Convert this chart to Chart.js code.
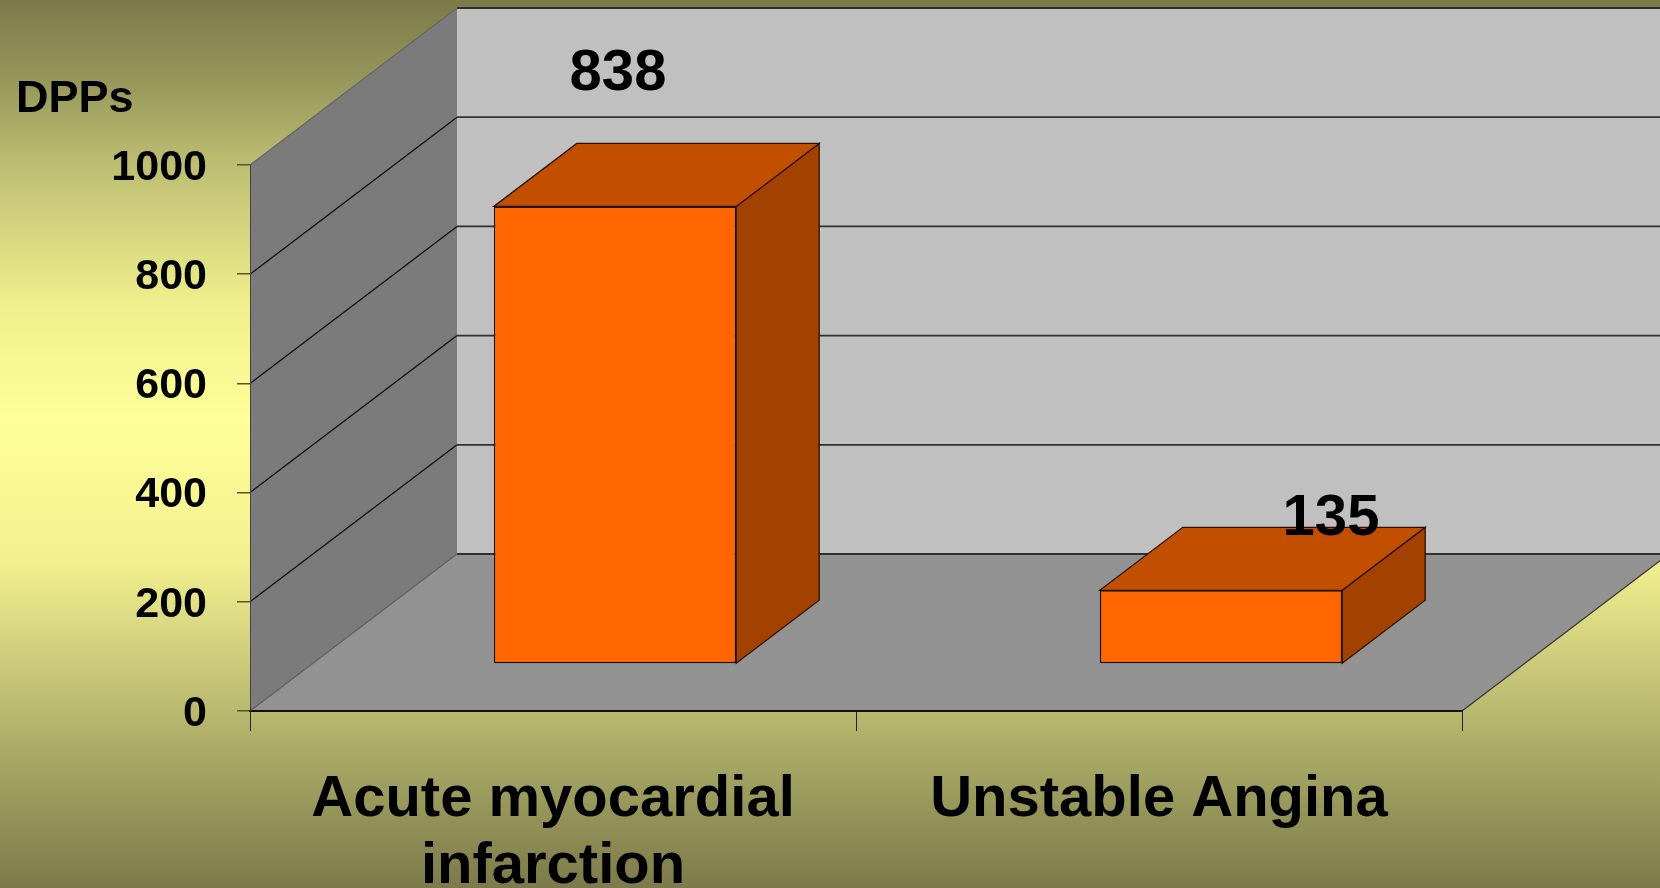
<!DOCTYPE html>
<html>
<head>
<meta charset="utf-8">
<style>html,body{margin:0;padding:0;background:#7c7a4a;overflow:hidden}canvas{display:block}</style>
<script src="https://cdn.jsdelivr.net/npm/chart.js@4/dist/chart.umd.js"></script>
</head>
<body>
<canvas id="c" width="1660" height="888"></canvas>
<script>
const categories = [['Acute myocardial', 'infarction'], 'Unstable Angina'];
const dppValues = [838, 135];
const yTitle = 'DPPs';

const FONT = '"Liberation Sans", Arial, sans-serif';
const wallDepth = { dx: 207, dy: -157 };
const barOffset = { dx: 62, dy: -47 };
const barDepth = { dx: 83, dy: -63 };
const labelShift = [{ dx: 3, dy: -132 }, { dx: 110, dy: -71 }];
const yLabelNudge = 3;

function poly(ctx, pts, fill, stroke, lw) {
  ctx.beginPath();
  pts.forEach((p, i) => i ? ctx.lineTo(p[0], p[1]) : ctx.moveTo(p[0], p[1]));
  ctx.closePath();
  if (fill) { ctx.fillStyle = fill; ctx.fill(); }
  if (stroke) { ctx.strokeStyle = stroke; ctx.lineWidth = lw || 1; ctx.stroke(); }
}

const scene3d = {
  id: 'scene3d',
  beforeDraw(chart) {
    const { ctx, chartArea: a, scales: { y } } = chart;
    // vertical nudge of the value-axis labels
    if (!y._nudged) {
      y.getLabelItems().forEach(it => { it.options.translation[1] += yLabelNudge; });
      y._nudged = true;
    }
    const g = ctx.createLinearGradient(0, 0, 0, chart.height);
    g.addColorStop(0, '#7c7a4a');
    g.addColorStop(0.09, '#96965a');
    g.addColorStop(0.187, '#bebe73');
    g.addColorStop(0.338, '#eeee8c');
    g.addColorStop(0.47, '#ffff99');
    g.addColorStop(0.63, '#f3f08f');
    g.addColorStop(0.80, '#b9b96f');
    g.addColorStop(0.91, '#96965a');
    g.addColorStop(1, '#7c7a4a');
    ctx.save();
    ctx.fillStyle = g;
    ctx.fillRect(0, 0, chart.width, chart.height);
    const d = wallDepth;
    // back wall
    poly(ctx, [[a.left + d.dx, a.top + d.dy], [a.right + d.dx, a.top + d.dy], [a.right + d.dx, a.bottom + d.dy], [a.left + d.dx, a.bottom + d.dy]], '#c0c0c0');
    // left wall
    poly(ctx, [[a.left, a.bottom], [a.left, a.top], [a.left + d.dx, a.top + d.dy], [a.left + d.dx, a.bottom + d.dy]], '#7b7b7b');
    // floor
    poly(ctx, [[a.left, a.bottom], [a.right, a.bottom], [a.right + d.dx, a.bottom + d.dy], [a.left + d.dx, a.bottom + d.dy]], '#929292');
    // gridlines from the value scale
    y.ticks.forEach(t => {
      const py = y.getPixelForValue(t.value);
      ctx.beginPath();
      ctx.moveTo(a.left, py);
      ctx.lineTo(a.left + d.dx, py + d.dy);
      ctx.strokeStyle = t.value === 0 ? '#5f5f5f' : (t.value === 1000 ? '#666' : '#0c0c0c');
      ctx.lineWidth = 1.2;
      ctx.stroke();
      ctx.beginPath();
      ctx.moveTo(a.left + d.dx, py + d.dy);
      ctx.lineTo(a.right + d.dx, py + d.dy);
      ctx.strokeStyle = '#303030';
      ctx.lineWidth = 1.8;
      ctx.stroke();
    });
    // floor right edge
    ctx.beginPath();
    ctx.moveTo(a.right, a.bottom);
    ctx.lineTo(a.right + d.dx, a.bottom + d.dy);
    ctx.strokeStyle = '#333';
    ctx.lineWidth = 1.2;
    ctx.stroke();
    // axis title
    ctx.fillStyle = '#000';
    ctx.font = 'bold 45px ' + FONT;
    ctx.textAlign = 'left';
    ctx.textBaseline = 'alphabetic';
    ctx.fillText(yTitle, 16, 112);
    ctx.restore();
  },
  beforeDatasetsDraw(chart) {
    const { ctx } = chart;
    ctx.save();
    ctx.translate(barOffset.dx, barOffset.dy);
    const b = barDepth;
    chart.getDatasetMeta(0).data.forEach(el => {
      const { x, y, base, width } = el.getProps(['x', 'y', 'base', 'width']);
      const l = x - width / 2, r = x + width / 2;
      poly(ctx, [[r, y], [r + b.dx, y + b.dy], [r + b.dx, base + b.dy], [r, base]], '#a24100', '#2a1200', 1.3);
      poly(ctx, [[l, y], [r, y], [r + b.dx, y + b.dy], [l + b.dx, y + b.dy]], '#c24e00', '#2a1200', 1.3);
    });
  },
  afterDatasetsDraw(chart) {
    const { ctx } = chart;
    ctx.restore();
    ctx.save();
    ctx.fillStyle = '#000';
    ctx.font = 'bold 58px ' + FONT;
    ctx.textAlign = 'center';
    ctx.textBaseline = 'middle';
    chart.getDatasetMeta(0).data.forEach((el, i) => {
      const { x, y } = el.getProps(['x', 'y']);
      const s = labelShift[i];
      ctx.fillText(String(dppValues[i]), x + barOffset.dx + s.dx, y + barOffset.dy + s.dy);
    });
    ctx.restore();
  }
};

new Chart(document.getElementById('c'), {
  type: 'bar',
  data: {
    labels: categories,
    datasets: [{
      label: 'DPPs',
      data: dppValues,
      backgroundColor: '#ff6600',
      borderColor: '#241000',
      borderWidth: 1.5,
      borderSkipped: false,
      categoryPercentage: 1,
      barPercentage: 0.4,
      clip: false
    }]
  },
  options: {
    responsive: false,
    animation: false,
    layout: { padding: { left: 0, right: 198, top: 165, bottom: 0 } },
    plugins: { legend: { display: false }, tooltip: { enabled: false }, title: { display: false } },
    scales: {
      x: {
        afterFit(s) { s.height = 177; },
        grid: { drawOnChartArea: false, drawTicks: true, tickLength: 20, color: '#222', lineWidth: 1 },
        border: { display: true, color: '#111', width: 2 },
        ticks: {
          color: '#000',
          font: { family: FONT, size: 58, weight: 'bold', lineHeight: 1.155 },
          maxRotation: 0, minRotation: 0, autoSkip: false, padding: 36
        }
      },
      y: {
        min: 0, max: 1000,
        afterFit(s) { s.width = 250; },
        grid: { drawOnChartArea: false, drawTicks: true, tickLength: 13, color: '#55552e', lineWidth: 1.5 },
        border: { display: true, color: '#444', width: 1 },
        ticks: {
          stepSize: 200,
          color: '#000',
          font: { family: FONT, size: 43, weight: 'bold' },
          padding: 30,
          callback: v => String(v)
        }
      }
    }
  },
  plugins: [scene3d]
});
</script>
</body>
</html>
